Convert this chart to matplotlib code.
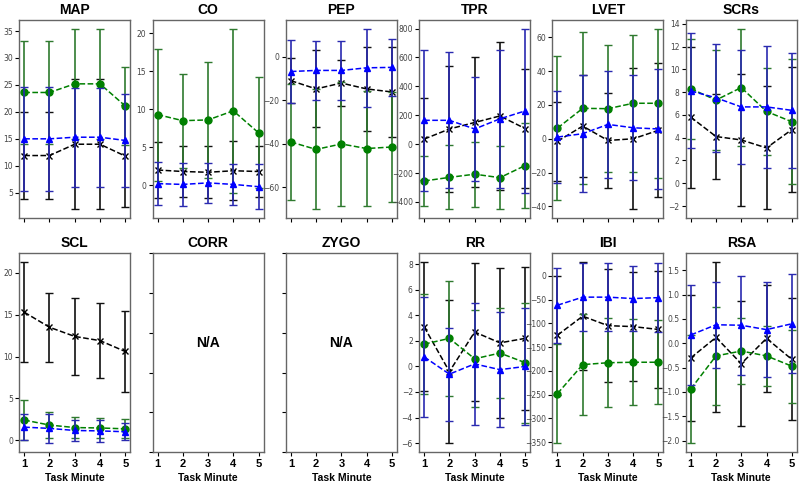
import matplotlib
matplotlib.use('Agg')
import matplotlib.pyplot as plt

minutes = [1, 2, 3, 4, 5]
titles = ['MAP', 'CO', 'PEP', 'TPR', 'LVET', 'SCRs',
          'SCL', 'CORR', 'ZYGO', 'RR', 'IBI', 'RSA']

# each panel: [black, green, blue]
map_means = [[11.9, 11.9, 14.0, 14.0, 11.8], [23.6, 23.6, 25.2, 25.2, 21.1], [15.0, 15.0, 15.3, 15.3, 14.7]]
map_sds = [[8.1, 8.1, 12.1, 12.1, 9.5], [9.5, 9.5, 10.2, 10.2, 7.2], [9.6, 9.6, 9.2, 9.2, 8.7]]

co_means = [[2.0, 1.8, 1.7, 1.9, 1.8], [9.3, 8.5, 8.6, 9.8, 6.9], [0.2, 0.1, 0.3, 0.1, -0.2]]
co_sds = [[3.7, 3.35, 3.45, 3.9, 3.4], [8.7, 6.2, 7.6, 10.8, 7.3], [2.8, 2.85, 2.6, 2.7, 3.0]]

pep_means = [[-11.0, -14.8, -12.1, -14.8, -16.2], [-39.2, -42.6, -40.1, -42.2, -41.5], [-6.8, -6.3, -6.3, -5.1, -4.9]]
pep_sds = [[10.5, 17.7, 10.4, 19.2, 20.8], [26.5, 27.6, 28.7, 26.3, 25.3], [14.3, 13.5, 13.5, 17.9, 13.0]]

tpr_means = [[35, 105, 150, 195, 108], [-255, -230, -208, -232, -148], [165, 165, 105, 175, 230]]
tpr_sds = [[283, 435, 450, 512, 412], [175, 222, 225, 218, 295], [490, 470, 362, 478, 568]]

lvet_means = [[-1.5, 7.5, -1.0, 0.0, 5.0], [6.3, 18.0, 17.8, 21.0, 21.0], [1.0, 3.0, 8.5, 6.5, 5.8]]
lvet_sds = [[23.5, 30.0, 28.3, 41.8, 39.7], [42.7, 45.0, 37.5, 40.5, 44.0], [27.0, 34.5, 31.7, 31.0, 35.3]]

scrs_means = [[5.8, 4.1, 3.8, 3.1, 4.7], [8.3, 7.3, 8.4, 6.3, 5.4], [8.1, 7.5, 6.7, 6.7, 6.4]]
scrs_sds = [[6.2, 3.7, 5.8, 5.4, 5.5], [4.4, 4.4, 5.15, 3.8, 5.5], [5.05, 4.75, 5.0, 5.35, 5.05]]

scl_means = [[15.3, 13.5, 12.4, 11.9, 10.6], [2.4, 1.8, 1.5, 1.45, 1.35], [1.55, 1.4, 1.15, 1.1, 1.0]]
scl_sds = [[5.95, 4.1, 4.65, 4.45, 4.8], [2.4, 1.6, 1.3, 1.2, 1.15], [1.55, 1.75, 1.2, 1.35, 1.0]]

rr_means = [[3.1, -0.4, 2.7, 1.85, 2.2], [1.75, 2.2, 0.6, 1.05, 0.3], [0.75, -0.6, 0.2, -0.25, 0.0]]
rr_sds = [[5.05, 5.6, 5.38, 5.9, 5.6], [3.9, 4.5, 3.8, 3.55, 4.7], [4.7, 3.65, 4.75, 4.5, 4.55]]

ibi_means = [[-125, -85, -105, -107, -113], [-248, -187, -183, -182, -182], [-62, -45, -45, -48, -46]]
ibi_sds = [[125, 113, 119, 115, 124], [104, 106, 94, 90, 88], [79, 72, 72, 68, 73]]

rsa_means = [[-0.3, 0.12, -0.42, 0.1, -0.33], [-0.94, -0.26, -0.16, -0.26, -0.47], [0.17, 0.38, 0.37, 0.28, 0.4]]
rsa_sds = [[1.3, 1.54, 1.28, 1.1, 1.25], [1.11, 1.0, 0.68, 0.61, 0.75], [1.03, 0.88, 1.02, 0.98, 1.02]]

panel_data = {
    'MAP': (map_means, map_sds), 'CO': (co_means, co_sds), 'PEP': (pep_means, pep_sds),
    'TPR': (tpr_means, tpr_sds), 'LVET': (lvet_means, lvet_sds), 'SCRs': (scrs_means, scrs_sds),
    'SCL': (scl_means, scl_sds), 'RR': (rr_means, rr_sds), 'IBI': (ibi_means, ibi_sds),
    'RSA': (rsa_means, rsa_sds),
}

colors = ['black', 'green', 'blue']
ecolors = ['#111111', '#2f7a2f', '#2a2ab0']
markers = ['x', 'o', '^']

fig, axes = plt.subplots(2, 6, figsize=(8, 4.84), dpi=100)
plt.subplots_adjust(left=0.024, right=0.996, top=0.959, bottom=0.066, wspace=0.2, hspace=0.176)

for i, ax in enumerate(axes.flat):
    name = titles[i]
    ax.set_title(name, fontsize=10, fontweight='bold', family='Liberation Sans', pad=4.5)
    if name in panel_data:
        means, sds = panel_data[name]
        for k in range(3):
            ax.errorbar(minutes, means[k], yerr=sds[k], color=colors[k], ecolor=ecolors[k],
                        marker=markers[k], markersize=5, linestyle='--', linewidth=1.1,
                        elinewidth=1.2, capsize=3, capthick=1.0, zorder=2 + k)
    else:
        ax.set_xlim(0.8, 5.2)
        ax.set_ylim(0, 1)
        ax.set_yticks([0, 0.2, 0.4, 0.6, 0.8, 1.0])
        ax.set_yticklabels([])
        ax.text(0.5, 0.55, 'N/A', transform=ax.transAxes, ha='center', va='center',
                fontsize=10, fontweight='bold', family='Liberation Sans')
    ax.set_xticks(minutes)
    ax.tick_params(axis='y', labelsize=5.5, labelcolor='#444444', length=3, width=0.8, pad=1.5)
    ax.tick_params(axis='x', length=3, width=0.8, pad=2)
    for sp in ax.spines.values():
        sp.set_color('#666666')
        sp.set_linewidth(1.0)
    if i < 6:
        ax.set_xticklabels([])
    else:
        ax.set_xticklabels([str(m) for m in minutes], fontsize=8, fontweight='bold',
                           family='Liberation Sans')
        ax.set_xlabel('Task Minute', fontsize=7.5, fontweight='bold', family='Liberation Sans',
                      labelpad=3)

plt.savefig('out.png', dpi=100)
